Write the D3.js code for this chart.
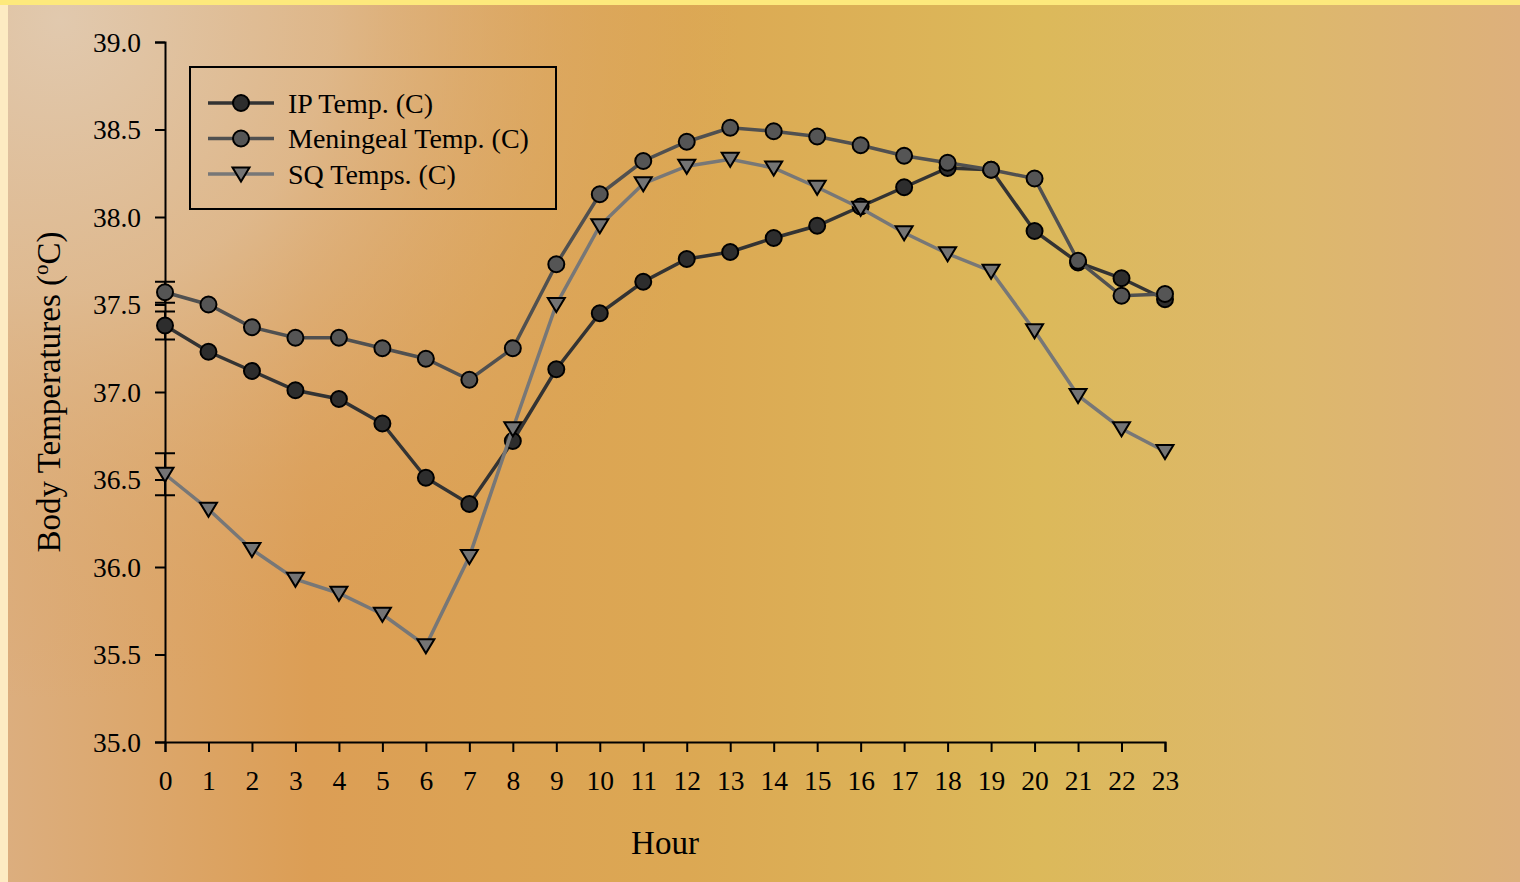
<!DOCTYPE html>
<html>
<head>
<meta charset="utf-8">
<script src="https://cdn.jsdelivr.net/npm/d3@7"></script>
<style>
  html, body { margin: 0; padding: 0; overflow: hidden; }
  body { width: 1520px; height: 882px; }
  svg text { font-family: "Liberation Serif", "Times New Roman", serif; fill: #000; }
</style>
</head>
<body>
<script>
var width = 1520,
    height = 882;

// data
var hours = d3.range(0, 24);
var ipTemp = [37.38, 37.23, 37.12, 37.01, 36.96, 36.82, 36.51, 36.36, 36.72, 37.13, 37.45, 37.63,
              37.76, 37.80, 37.88, 37.95, 38.06, 38.17, 38.28, 38.27, 37.92, 37.74, 37.65, 37.53];
var meningealTemp = [37.57, 37.50, 37.37, 37.31, 37.31, 37.25, 37.19, 37.07, 37.25, 37.73, 38.13, 38.32,
                     38.43, 38.51, 38.49, 38.46, 38.41, 38.35, 38.31, 38.27, 38.22, 37.75, 37.55, 37.56];
var sqTemp = [36.53, 36.33, 36.10, 35.93, 35.85, 35.73, 35.55, 36.06, 36.79, 37.50, 37.95, 38.19,
              38.29, 38.33, 38.28, 38.17, 38.05, 37.91, 37.79, 37.69, 37.35, 36.98, 36.79, 36.66];
// error bars only shown at hour 0
var errAtZero = { ip: 0.08, men: 0.06, sq: 0.12 };
var yTicks = [35.0, 35.5, 36.0, 36.5, 37.0, 37.5, 38.0, 38.5, 39.0];
var seriesNames = ["IP Temp. (C)", "Meningeal Temp. (C)", "SQ Temps. (C)"];

var svg = d3.select("body").append("svg")
    .attr("width", width)
    .attr("height", height);

var defs = svg.append("defs");
var bg = defs.append("linearGradient").attr("id", "bg")
    .attr("x1", "0").attr("y1", "0").attr("x2", "1").attr("y2", "0");
bg.append("stop").attr("offset", "0").attr("stop-color", "#dcae7e");
bg.append("stop").attr("offset", "0.2").attr("stop-color", "#dc9e55");
bg.append("stop").attr("offset", "0.45").attr("stop-color", "#dca853");
bg.append("stop").attr("offset", "0.68").attr("stop-color", "#dcb95a");
bg.append("stop").attr("offset", "0.85").attr("stop-color", "#ddb86c");
bg.append("stop").attr("offset", "1").attr("stop-color", "#ddb07c");

var glow = defs.append("radialGradient").attr("id", "glow")
    .attr("gradientUnits", "userSpaceOnUse")
    .attr("cx", 60).attr("cy", 20).attr("r", 680);
glow.append("stop").attr("offset", "0").attr("stop-color", "#e1c9ae").attr("stop-opacity", 1);
glow.append("stop").attr("offset", "0.4").attr("stop-color", "#dfbd96").attr("stop-opacity", 0.8);
glow.append("stop").attr("offset", "0.75").attr("stop-color", "#dcac74").attr("stop-opacity", 0.3);
glow.append("stop").attr("offset", "1").attr("stop-color", "#dca060").attr("stop-opacity", 0);

svg.append("rect").attr("width", width).attr("height", height).attr("fill", "#fdebc2");
svg.append("rect").attr("x", 0).attr("y", 0).attr("width", width).attr("height", 5).attr("fill", "#fde97c");
svg.append("rect").attr("x", 8).attr("y", 5).attr("width", width - 8).attr("height", height - 5)
    .attr("fill", "url(#bg)");
svg.append("rect").attr("x", 8).attr("y", 5).attr("width", width - 8).attr("height", height - 5)
    .attr("fill", "url(#glow)");

var x = d3.scaleLinear().domain([0, 23]).range([165, 1165]);
var y = d3.scaleLinear().domain([35, 39]).range([742, 42]);

// axes
var yAxis = svg.append("g")
    .attr("transform", "translate(165,0)")
    .call(d3.axisLeft(y).tickValues(yTicks).tickFormat(d3.format(".1f")).tickSizeOuter(0).tickSize(10).tickPadding(14));
var xAxis = svg.append("g")
    .attr("transform", "translate(0,742)")
    .call(d3.axisBottom(x).tickValues(hours).tickFormat(d3.format("d")).tickSizeOuter(0).tickSize(10).tickPadding(18));

[yAxis, xAxis].forEach(function(a) {
  a.selectAll("path, line").attr("stroke", "#000").attr("stroke-width", 2);
  a.selectAll("text").style("font-size", "27.5px").attr("fill", "#000");
});
yAxis.selectAll("text").attr("dy", "0.33em");

svg.append("text")
    .attr("x", 665).attr("y", 854)
    .attr("text-anchor", "middle")
    .style("font-size", "33px")
    .text("Hour");

var yl = svg.append("text")
    .attr("transform", "translate(60,392) rotate(-90)")
    .attr("text-anchor", "middle")
    .style("font-size", "33px");
yl.append("tspan").text("Body Temperatures (");
yl.append("tspan").attr("baseline-shift", "super").style("font-size", "21px").text("o");
yl.append("tspan").text("C)");

var series = [
  { key: "ip", values: ipTemp, line: "#333333", fill: "#2d2d2d", shape: "circle" },
  { key: "men", values: meningealTemp, line: "#505050", fill: "#555555", shape: "circle" },
  { key: "sq", values: sqTemp, line: "#777777", fill: "#747474", shape: "triangle" }
];

var line = d3.line()
    .x(function(d, i) { return x(hours[i]); })
    .y(function(d) { return y(d); });

var triPath = "M-8.5,-6.5L8.5,-6.5L0,7.5Z";

// error bars at hour 0
series.forEach(function(s) {
  var v = s.values[0], e = errAtZero[s.key];
  var eb = svg.append("g").attr("stroke", "#000").attr("stroke-width", 2);
  eb.append("line").attr("x1", x(0)).attr("x2", x(0)).attr("y1", y(v - e)).attr("y2", y(v + e));
  [v - e, v + e].forEach(function(c) {
    eb.append("line").attr("x1", x(0) - 10).attr("x2", x(0) + 10).attr("y1", y(c)).attr("y2", y(c));
  });
});

series.forEach(function(s) {
  var g = svg.append("g");
  g.append("path")
      .datum(s.values)
      .attr("fill", "none")
      .attr("stroke", s.line)
      .attr("stroke-width", 3.5)
      .attr("d", line);
  if (s.shape === "circle") {
    g.selectAll("circle")
        .data(s.values)
        .enter().append("circle")
        .attr("cx", function(d, i) { return x(hours[i]); })
        .attr("cy", function(d) { return y(d); })
        .attr("r", 8)
        .attr("fill", s.fill)
        .attr("stroke", "#000")
        .attr("stroke-width", 2);
  } else {
    g.selectAll("path.mark")
        .data(s.values)
        .enter().append("path")
        .attr("class", "mark")
        .attr("transform", function(d, i) { return "translate(" + x(hours[i]) + "," + y(d) + ")"; })
        .attr("d", triPath)
        .attr("fill", s.fill)
        .attr("stroke", "#000")
        .attr("stroke-width", 2);
  }
});

// legend
var legend = svg.append("g");
legend.append("rect")
    .attr("x", 190).attr("y", 67).attr("width", 366).attr("height", 142)
    .attr("fill", "none").attr("stroke", "#000").attr("stroke-width", 2);

series.forEach(function(s, i) {
  var ly = 103 + i * 35.5;
  var row = legend.append("g");
  row.append("line")
      .attr("x1", 208).attr("x2", 274).attr("y1", ly).attr("y2", ly)
      .attr("stroke", s.line).attr("stroke-width", 3.5);
  if (s.shape === "circle") {
    row.append("circle").attr("cx", 241).attr("cy", ly).attr("r", 8)
        .attr("fill", s.fill).attr("stroke", "#000").attr("stroke-width", 2);
  } else {
    row.append("path").attr("transform", "translate(241," + ly + ")").attr("d", triPath)
        .attr("fill", s.fill).attr("stroke", "#000").attr("stroke-width", 2);
  }
  row.append("text")
      .attr("x", 288).attr("y", ly).attr("dy", "0.35em")
      .style("font-size", "28px")
      .text(seriesNames[i]);
});
</script>
</body>
</html>
